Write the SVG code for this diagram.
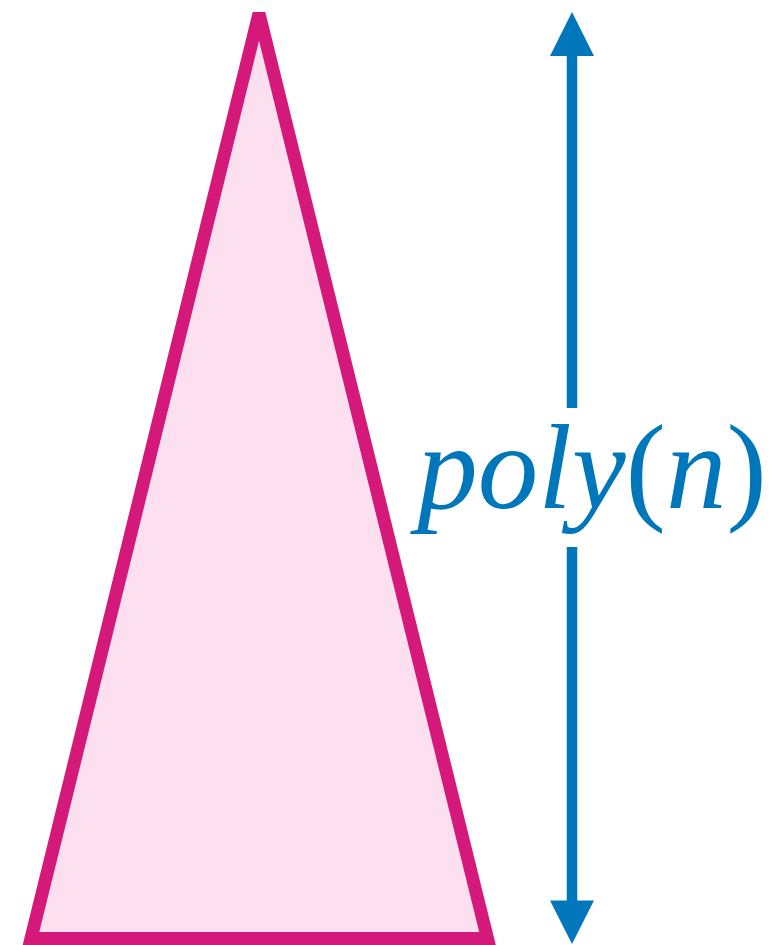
<svg xmlns="http://www.w3.org/2000/svg" width="775" height="945" viewBox="0 0 775 945">
<defs>
<style>
.tri{fill:#FDE0EF;stroke:#D4197A;stroke-width:13;stroke-linejoin:miter;stroke-miterlimit:4}
.shaft{stroke:#0077BB;stroke-width:10.5;fill:none}
.head{fill:#0077BB}
.lbl{font-family:"Liberation Serif","Times New Roman",serif;font-size:121px;fill:#0077BB}
.it{font-style:italic}
</style>
</defs>
<rect width="775" height="945" fill="#ffffff"/>
<g id="triangle">
<polygon class="tri" points="259,13.6 31,938.5 487.5,938.5"/>
</g>
<g id="connectors">
<line class="shaft" x1="572" y1="54" x2="572" y2="408"/>
<line class="shaft" x1="572" y1="547" x2="572" y2="902"/>
<polygon class="head" points="572,12 550,56 594,56"/>
<polygon class="head" points="572,944 550,900.5 594,900.5"/>
</g>
<g id="label">
<text class="lbl" x="592" y="508" text-anchor="middle"><tspan class="it">poly</tspan>(<tspan class="it">n</tspan>)</text>
</g>
</svg>
